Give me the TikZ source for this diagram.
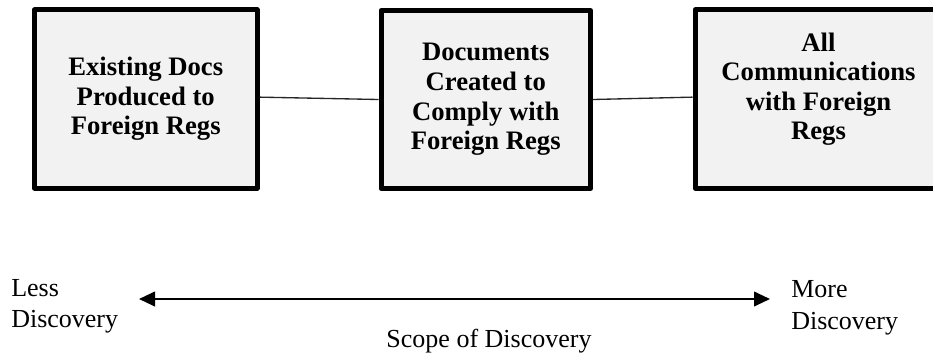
\documentclass[tikz,border=0pt]{standalone}
\usepackage{xcolor}
\usepackage{fontspec}
\setmainfont{Liberation Serif}
\usepackage{tikz}
\usetikzlibrary{arrows.meta}
\definecolor{boxgray}{HTML}{F2F2F2}

\begin{document}
\begin{tikzpicture}[x=0.75pt,y=-0.75pt,
  regbox/.style={draw=black,line width=3.75pt,line join=round,fill=boxgray,align=center,inner sep=0pt,minimum height=133.6pt,font=\bfseries\fontsize{20}{22.2}\selectfont},
  link/.style={line width=1pt,black!85},
  endtext/.style={align=left,inner sep=0pt,font=\fontsize{19.5}{23.7}\selectfont},
  scopearrow/.style={{Triangle[length=12pt,width=11pt]}-{Triangle[length=12pt,width=11pt]},line width=1.5pt}]
\path[use as bounding box,clip] (0,0) rectangle (933,354);
\node[regbox,minimum width=166.9pt] (docs) at (145.75,99) {Existing Docs\\Produced to\\Foreign Regs};
\node[regbox,minimum width=157.1pt] (made) at (485.75,99.5) {Documents\\Created to\\Comply with\\Foreign Regs};
\node[regbox,minimum width=185.25pt,text depth=19pt] (comms) at (818.5,99) {All\\Communications\\with Foreign\\Regs};
\draw[link] ([yshift=1.4pt]docs.east) -- (made.west);
\draw[link] (made.east) -- ([yshift=1.4pt]comms.west);
\node[endtext,anchor=north west] (less) at (11,279) {Less\\Discovery};
\node[endtext,anchor=north west] (more) at (791,280.5) {More\\Discovery};
\node[endtext,anchor=base] (scope) at (489,347) {Scope of Discovery};
\coordinate (lessend) at (139,299);
\coordinate (moreend) at (770,299);
\draw[scopearrow] (lessend) -- (moreend);
\end{tikzpicture}
\end{document}
